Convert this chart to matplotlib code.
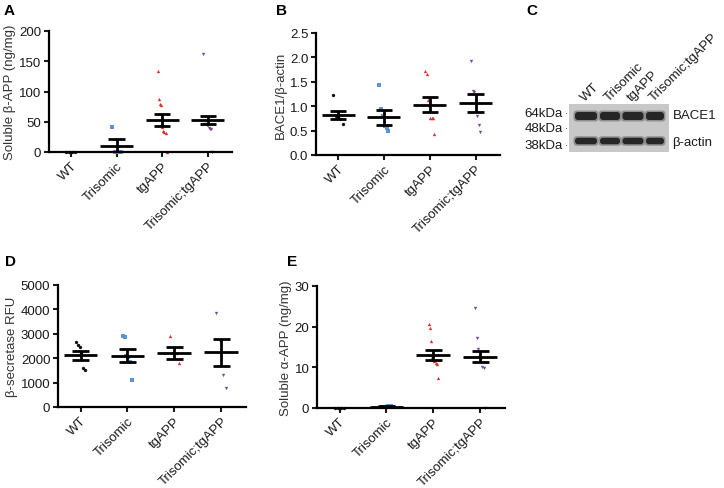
import numpy as np
import matplotlib
matplotlib.use('Agg')
import matplotlib.pyplot as plt
from matplotlib.patches import Rectangle, FancyBboxPatch

plt.rcParams['font.family'] = ['Liberation Sans', 'DejaVu Sans']

## data

groups = ['WT', 'Trisomic', 'tgAPP', 'Trisomic;tgAPP']
colors = ['#111111', '#5b93d3', '#e42c2c', '#7d4a9a']
markers = ['o', 's', '^', 'v']

# A : soluble beta-APP (ng/mg)
A_pts = [[0, 0, 0, 0],
         [42, 0, 0, 0],
         [134, 88, 80, 77, 41, 35, 33, 31, 0],
         [162, 46, 46, 44, 44, 40, 38, 38, 0]]
A_mean = [0, 10.5, 53, 53]
A_sem = [0, 10.5, 10, 7]

# B : BACE1 / beta-actin
B_pts = [[1.22, 0.80, 0.78, 0.74, 0.64],
         [1.44, 0.95, 0.80, 0.60, 0.55, 0.50],
         [1.72, 1.66, 1.13, 1.02, 0.76, 0.76, 0.76, 0.43],
         [1.93, 1.32, 1.30, 1.10, 0.80, 0.62, 0.48]]
B_mean = [0.82, 0.77, 1.03, 1.065]
B_sem = [0.08, 0.15, 0.15, 0.19]

# D : beta-secretase RFU
D_pts = [[2650, 2550, 2450, 2200, 1600, 1500],
         [2900, 2850, 2100, 2050, 1850, 1100],
         [2900, 2250, 2200, 1800],
         [3850, 2700, 1300, 780]]
D_mean = [2120, 2105, 2215, 2240]
D_sem = [195, 275, 240, 545]

# E : soluble alpha-APP (ng/mg)
E_pts = [[0, 0, 0, 0],
         [0.2, 0.3, 0.4, 0.5],
         [20.6, 19.7, 16.4, 12.5, 12.0, 11.5, 11.0, 10.7, 7.5],
         [24.5, 17.1, 14.5, 12.5, 12.0, 10.0, 9.9, 0]]
E_mean = [0, 0.3, 13.0, 12.6]
E_sem = [0, 0.1, 1.2, 1.35]


## toolkit

def scatterPanel(ax, pts, means, sems, ticks, ylab, fmt=None):
    for i in range(len(groups)) :
        n = len(pts[i])
        xs = i + np.linspace(-0.1, 0.1, n)
        ax.plot(xs, pts[i], linestyle='none', marker=markers[i], color=colors[i],
                markersize=2.4, markeredgewidth=0, clip_on=False, zorder=2)
        # mean +/- SEM
        ax.hlines(means[i], i-0.36, i+0.36, color='k', linewidth=2.0, zorder=3)
        if sems[i] > 0 :
            ax.vlines(i, means[i]-sems[i], means[i]+sems[i], color='k', linewidth=2.0, zorder=3)
            ax.hlines([means[i]-sems[i], means[i]+sems[i]], i-0.18, i+0.18, color='k', linewidth=2.0, zorder=3)

    ax.set_xlim(-0.48, 3.53)
    ax.set_ylim(ticks[0], ticks[-1])
    ax.set_yticks(ticks)
    if fmt is not None :
        ax.set_yticklabels([fmt.format(t) for t in ticks])
    ax.set_xticks(range(len(groups)))
    ax.set_xticklabels(groups, rotation=45, ha='right', rotation_mode='anchor')
    for s in ['top', 'right'] :
        ax.spines[s].set_visible(False)
    for s in ['left', 'bottom'] :
        ax.spines[s].set_linewidth(1.6)
    ax.tick_params(width=1.5, length=3.5, labelsize=9.5, colors='#1a1a1a', pad=2)
    ax.set_ylabel(ylab, fontsize=9.5, color='#333333', labelpad=2)


## figure

fig = plt.figure(figsize=(7.24, 4.89), dpi=100)
W, H = 724., 489.

def box(l, r, t, b) :
    return [l/W, 1-b/H, (r-l)/W, (b-t)/H]

axA = fig.add_axes(box(49, 232, 32, 153))
scatterPanel(axA, A_pts, A_mean, A_sem, [0, 50, 100, 150, 200], 'Soluble β-APP (ng/mg)')

axB = fig.add_axes(box(316, 500, 34, 156))
scatterPanel(axB, B_pts, B_mean, B_sem, [0, 0.5, 1.0, 1.5, 2.0, 2.5], 'BACE1/β-actin', fmt='{:.1f}')

axD = fig.add_axes(box(58, 246, 286, 408))
scatterPanel(axD, D_pts, D_mean, D_sem, [0, 1000, 2000, 3000, 4000, 5000], 'β-secretase RFU')

axE = fig.add_axes(box(317, 505, 287, 409))
scatterPanel(axE, E_pts, E_mean, E_sem, [0, 10, 20, 30], 'Soluble α-APP (ng/mg)')

# C : western blot drawn schematically
axC = fig.add_axes(box(569, 669, 105, 153))
axC.set_xlim(0, 100)
axC.set_ylim(48, 0)
axC.axis('off')
axC.add_patch(Rectangle((0, 0), 100, 48, facecolor='#c8c8c8', edgecolor='none'))
lane_x = [17, 41, 64, 86]
lane_w = [22, 20, 21, 18]
for i in range(4) :
    for yc, hh in [(12, 8), (37, 6.5)] :
        glow = FancyBboxPatch((lane_x[i]-lane_w[i]/2-1.5, yc-hh/2-1.5), lane_w[i]+3, hh+3,
                              boxstyle='round,pad=0,rounding_size=3.5', facecolor='#8e8e8e', edgecolor='none')
        band = FancyBboxPatch((lane_x[i]-lane_w[i]/2, yc-hh/2), lane_w[i], hh,
                              boxstyle='round,pad=0,rounding_size=3', facecolor='#262626', edgecolor='none')
        axC.add_patch(glow)
        axC.add_patch(band)

for i in range(4) :
    fig.text((569 + lane_x[i] + 1)/W, 1-104/H, groups[i], rotation=45, rotation_mode='anchor',
             ha='left', va='bottom', fontsize=9.5, color='#1a1a1a')

for lab, yy in [('64kDa', 114), ('48kDa', 129), ('38kDa', 146)] :
    fig.text(563/W, 1-yy/H, lab, ha='right', va='center', fontsize=9.5, color='#1a1a1a')
    fig.text(566/W, 1-yy/H, '·', ha='center', va='center', fontsize=7, color='#1a1a1a')
fig.text(673/W, 1-116/H, 'BACE1', ha='left', va='center', fontsize=9.5, color='#1a1a1a')
fig.text(672/W, 1-143/H, 'β-actin', ha='left', va='center', fontsize=9.5, color='#1a1a1a')

# panel letters
for lab, x, y in [('A', 4, 11), ('B', 276, 11), ('C', 526, 11), ('D', 5, 262), ('E', 287, 262)] :
    fig.text(x/W, 1-y/H, lab, fontsize=11, fontweight='bold', ha='left', va='center')

fig.savefig('out.png', dpi=100)
